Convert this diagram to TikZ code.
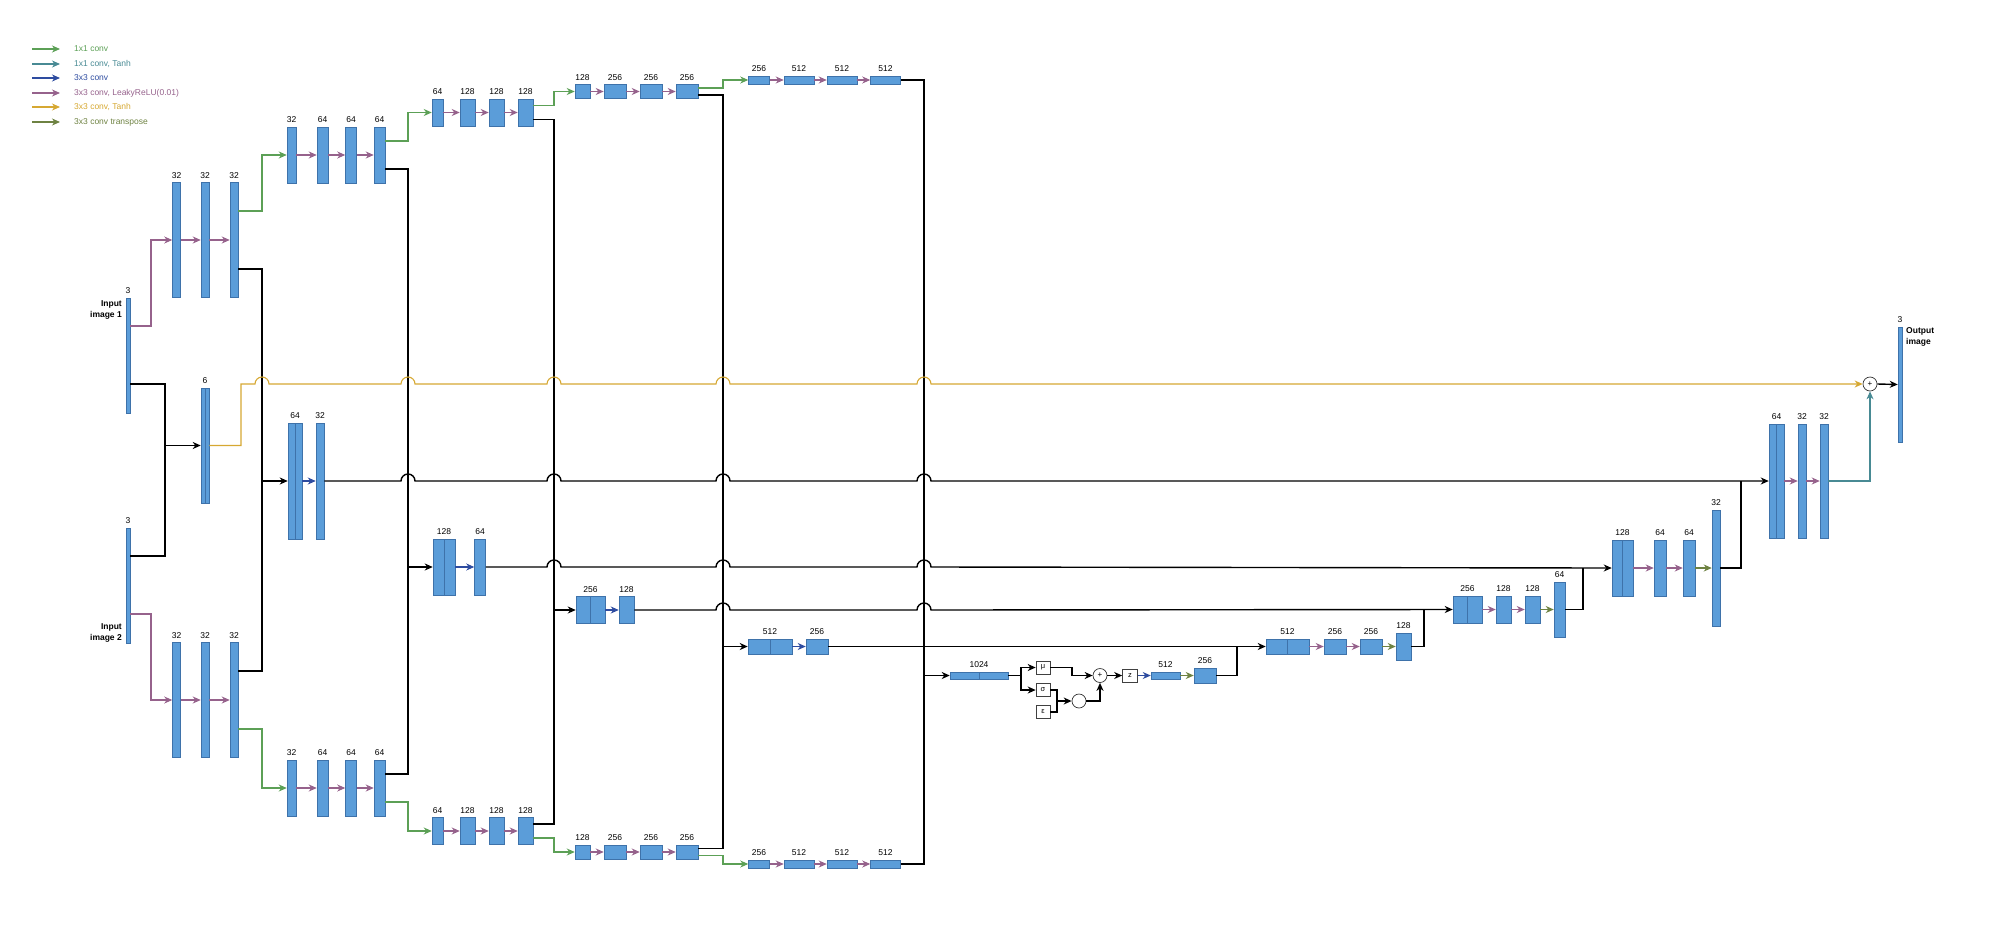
\documentclass[tikz,border=0pt]{standalone}
\usepackage{fontspec}
\setmainfont{Liberation Sans}
\usetikzlibrary{arrows.meta,calc}

\definecolor{barfill}{RGB}{91,157,217}
\definecolor{barline}{RGB}{62,114,170}
\definecolor{cgreen}{RGB}{92,160,86}
\definecolor{cteal}{RGB}{72,138,148}
\definecolor{cblue}{RGB}{46,76,160}
\definecolor{cpurple}{RGB}{150,98,140}
\definecolor{cgold}{RGB}{214,168,50}
\definecolor{colive}{RGB}{110,130,66}

\tikzset{
  bar/.style 2 args={draw=barline, fill=barfill, line width=0.5pt, inner sep=0pt, minimum width=#1pt, minimum height=#2pt},
  cat/.style={path picture={\draw[barline,line width=0.6pt] (path picture bounding box.north) -- (path picture bounding box.south);}},
  lbl/.style={font=\fontsize{8.5}{10}\selectfont, inner sep=1pt},
  legtxt/.style={anchor=west, inner sep=0pt, font=\fontsize{8.5}{10}\selectfont},
  ttl/.style={inner sep=0pt, font=\fontsize{8.5}{11}\selectfont\bfseries},
  vbox/.style={draw=black!75, line width=0.6pt, fill=white, minimum width=14pt, minimum height=13pt, inner sep=0pt, font=\fontsize{7.5}{8}\selectfont},
  circ/.style={circle, draw=black!80, line width=0.7pt, fill=white, minimum size=14pt, inner sep=0pt, font=\fontsize{8}{8}\selectfont},
  dotmark/.style={path picture={\fill (path picture bounding box.center) circle (1.1pt);}},
  arr/.style={-{Stealth[length=8pt,width=7pt,inset=2.5pt]}},
  blk/.style={black, line width=1.4pt},
  conv11/.style={cgreen, line width=1.1pt},
  conv11t/.style={cteal, line width=1.1pt},
  conv33/.style={cblue, line width=1.1pt},
  leaky/.style={cpurple, line width=1.1pt},
  tanh33/.style={cgold, line width=1.1pt},
  convtr/.style={colive, line width=1.1pt}
}
% hop of a horizontal line over the vertical through #1, at the height of #2
\def\jumpover#1#2{-- ($(#1 |- #2)+(-7,0)$) arc[start angle=180,end angle=0,radius=7pt]}

\begin{document}
\begin{tikzpicture}[x=1pt, y=-1pt, label distance=2.5pt]
  \useasboundingbox (0,0) rectangle (2015,937);

  %%%%% LEGEND %%%%%
  \node[legtxt,text=cgreen] (lg1) at (74,49) {1x1 conv};
  \node[legtxt,text=cteal] (lg2) at (74,64) {1x1 conv, Tanh};
  \node[legtxt,text=cblue] (lg3) at (74,78) {3x3 conv};
  \node[legtxt,text=cpurple] (lg4) at (74,93) {3x3 conv, LeakyReLU(0.01)};
  \node[legtxt,text=cgold] (lg5) at (74,107) {3x3 conv, Tanh};
  \node[legtxt,text=colive] (lg6) at (74,122) {3x3 conv transpose};
  \draw[conv11,arr] ([xshift=-42pt]lg1.west) -- ([xshift=-14pt]lg1.west);
  \draw[conv11t,arr] ([xshift=-42pt]lg2.west) -- ([xshift=-14pt]lg2.west);
  \draw[conv33,arr] ([xshift=-42pt]lg3.west) -- ([xshift=-14pt]lg3.west);
  \draw[leaky,arr] ([xshift=-42pt]lg4.west) -- ([xshift=-14pt]lg4.west);
  \draw[tanh33,arr] ([xshift=-42pt]lg5.west) -- ([xshift=-14pt]lg5.west);
  \draw[convtr,arr] ([xshift=-42pt]lg6.west) -- ([xshift=-14pt]lg6.west);

  %%%%% INPUTS %%%%%
  \node[bar={4}{115}, label={[lbl]above:3}] (in1) at (128,355.5) {};
  \node[bar={4}{115}, label={[lbl]above:3}] (in2) at (128,585.5) {};
  \node[ttl, anchor=east, align=right] (in1t) at (122,310) {Input\\image 1};
  \node[ttl, anchor=east, align=right] (in2t) at (122,632.5) {Input\\image 2};
  \node[bar={8}{115}, cat, label={[lbl]above:6}] (cat6) at (205,445.5) {};

  %%%%% ENCODER, UPPER %%%%%
  \node[bar={8}{115}, label={[lbl]above:32}] (u1a) at (176.5,240) {};
  \node[bar={8}{115}, label={[lbl]above:32}] (u1b) at (205,240) {};
  \node[bar={8}{115}, label={[lbl]above:32}] (u1c) at (234,240) {};
  \node[bar={9}{56}, label={[lbl]above:32}] (u2a) at (291.5,155) {};
  \node[bar={11}{56}, label={[lbl]above:64}] (u2b) at (322.5,155) {};
  \node[bar={11}{56}, label={[lbl]above:64}] (u2c) at (351,155) {};
  \node[bar={11}{56}, label={[lbl]above:64}] (u2d) at (379.5,155) {};
  \node[bar={11}{27}, label={[lbl]above:64}] (u3a) at (437.5,112.5) {};
  \node[bar={15}{27}, label={[lbl]above:128}] (u3b) at (467.5,112.5) {};
  \node[bar={15}{27}, label={[lbl]above:128}] (u3c) at (496.5,112.5) {};
  \node[bar={15}{27}, label={[lbl]above:128}] (u3d) at (525.5,112.5) {};
  \node[bar={15}{14}, label={[lbl]above:128}] (u4a) at (582.5,91.5) {};
  \node[bar={22}{14}, label={[lbl]above:256}] (u4b) at (615,91.5) {};
  \node[bar={22}{14}, label={[lbl]above:256}] (u4c) at (651,91.5) {};
  \node[bar={22}{14}, label={[lbl]above:256}] (u4d) at (687,91.5) {};
  \node[bar={21}{8}, label={[lbl]above:256}] (u5a) at (759,80) {};
  \node[bar={30}{8}, label={[lbl]above:512}] (u5b) at (799,80) {};
  \node[bar={30}{8}, label={[lbl]above:512}] (u5c) at (842,80) {};
  \node[bar={30}{8}, label={[lbl]above:512}] (u5d) at (885.5,80) {};

  %%%%% ENCODER, LOWER %%%%%
  \node[bar={8}{115}, label={[lbl]above:32}] (l1a) at (176.5,700) {};
  \node[bar={8}{115}, label={[lbl]above:32}] (l1b) at (205,700) {};
  \node[bar={8}{115}, label={[lbl]above:32}] (l1c) at (234,700) {};
  \node[bar={9}{56}, label={[lbl]above:32}] (l2a) at (291.5,788) {};
  \node[bar={11}{56}, label={[lbl]above:64}] (l2b) at (322.5,788) {};
  \node[bar={11}{56}, label={[lbl]above:64}] (l2c) at (351,788) {};
  \node[bar={11}{56}, label={[lbl]above:64}] (l2d) at (379.5,788) {};
  \node[bar={11}{27}, label={[lbl]above:64}] (l3a) at (437.5,831) {};
  \node[bar={15}{27}, label={[lbl]above:128}] (l3b) at (467.5,831) {};
  \node[bar={15}{27}, label={[lbl]above:128}] (l3c) at (496.5,831) {};
  \node[bar={15}{27}, label={[lbl]above:128}] (l3d) at (525.5,831) {};
  \node[bar={15}{14}, label={[lbl]above:128}] (l4a) at (582.5,852) {};
  \node[bar={22}{14}, label={[lbl]above:256}] (l4b) at (615,852) {};
  \node[bar={22}{14}, label={[lbl]above:256}] (l4c) at (651,852) {};
  \node[bar={22}{14}, label={[lbl]above:256}] (l4d) at (687,852) {};
  \node[bar={21}{8}, label={[lbl]above:256}] (l5a) at (759,864) {};
  \node[bar={30}{8}, label={[lbl]above:512}] (l5b) at (799,864) {};
  \node[bar={30}{8}, label={[lbl]above:512}] (l5c) at (842,864) {};
  \node[bar={30}{8}, label={[lbl]above:512}] (l5d) at (885.5,864) {};

  %%%%% SKIP BLOCKS %%%%%
  \node[bar={14}{116}, cat, label={[lbl]above:64}] (s1) at (295,481) {};
  \node[bar={8}{116}, label={[lbl]above:32}] (s1b) at (320,481) {};
  \node[bar={22}{56}, cat, label={[lbl]above:128}] (s2) at (444,567) {};
  \node[bar={11}{56}, label={[lbl]above:64}] (s2b) at (480,567) {};
  \node[bar={29}{27}, cat, label={[lbl]above:256}] (s3) at (590.5,610) {};
  \node[bar={15}{27}, label={[lbl]above:128}] (s3b) at (626.5,610) {};
  \node[bar={44}{15}, cat, label={[lbl]above:512}] (s4) at (770,646.5) {};
  \node[bar={22}{15}, label={[lbl]above:256}] (s4b) at (817,646.5) {};

  %%%%% BOTTLENECK %%%%%
  \node[bar={58}{7}, cat, label={[lbl]above:1024}] (bott) at (979,675.5) {};
  \node[vbox] (mu) at (1043,667.5) {μ};
  \node[vbox] (sig) at (1043,690) {σ};
  \node[vbox] (eps) at (1043,712) {ε};
  \node[circ] (sum) at (1100,675.5) {+};
  \node[circ, dotmark] (prod) at (1079,701) {};
  \node[vbox, minimum width=15pt] (z) at (1130,675.5) {z};
  \node[bar={29}{7}, label={[lbl]above:512}] (d5a) at (1165.5,675.5) {};
  \node[bar={22}{15}, label={[lbl]above:256}] (d5b) at (1205,675.5) {};

  %%%%% DECODER %%%%%
  \node[bar={43}{15}, cat, label={[lbl]above:512}] (d4a) at (1287.5,646.5) {};
  \node[bar={22}{15}, label={[lbl]above:256}] (d4b) at (1335,646.5) {};
  \node[bar={22}{15}, label={[lbl]above:256}] (d4c) at (1371,646.5) {};
  \node[bar={15}{27}, label={[lbl]above:128}] (d4d) at (1403.5,646.5) {};
  \node[bar={29}{27}, cat, label={[lbl]above:256}] (d3a) at (1467.5,609.5) {};
  \node[bar={15}{27}, label={[lbl]above:128}] (d3b) at (1503.5,609.5) {};
  \node[bar={15}{27}, label={[lbl]above:128}] (d3c) at (1532.5,609.5) {};
  \node[bar={11}{55}, label={[lbl]above:64}] (d3d) at (1559.5,609.5) {};
  \node[bar={21}{56}, cat, label={[lbl]above:128}] (d2a) at (1622.5,568) {};
  \node[bar={12}{56}, label={[lbl]above:64}] (d2b) at (1660,568) {};
  \node[bar={12}{56}, label={[lbl]above:64}] (d2c) at (1689,568) {};
  \node[bar={8}{116}, label={[lbl]above:32}] (d2d) at (1716,568) {};
  \node[bar={15}{114}, cat, label={[lbl]above:64}] (d1a) at (1776.5,481) {};
  \node[bar={8}{114}, label={[lbl]above:32}] (d1b) at (1802,481) {};
  \node[bar={8}{114}, label={[lbl]above:32}] (d1c) at (1824,481) {};
  \node[circ] (pl) at (1870,384) {+};
  \node[bar={4}{115}, label={[lbl]above:3}] (outb) at (1900,384.5) {};
  \node[ttl, anchor=west, align=left] (outt) at (1906,337) {Output\\image};

  %%%%% JUNCTIONS %%%%%
  \coordinate (pb) at (151,0);
  \coordinate (j0) at (165,445.5);
  \coordinate (g1) at (241,384);
  \coordinate (j1) at (262,481);
  \coordinate (j2) at (408,567);
  \coordinate (j3) at (554,610);
  \coordinate (j4) at (723,646.5);
  \coordinate (j5) at (924,675.5);
  \coordinate (fk) at (1021,675.5);
  \coordinate (m1) at (1072,0);
  \coordinate (k0) at (1057,701);
  \coordinate (k5) at (1237,0);
  \coordinate (k4) at (1424,0);
  \coordinate (k3) at (1583,0);
  \coordinate (k2) at (1741,0);

  %%%%% INPUT CONNECTIONS %%%%%
  \draw[leaky,arr] ([yshift=29.5pt]in1.east) -| (pb |- u1a.west) -- (u1a.west);
  \draw[leaky,arr] ([yshift=-28.5pt]in2.east) -| (pb |- l1a.west) -- (l1a.west);
  \draw[blk] ([yshift=-28.5pt]in1.east) -| (j0) |- ([yshift=29.5pt]in2.east);
  \draw[blk,arr] (j0) -- (cat6.west);

  %%%%% CHAINS %%%%%
  \foreach \a/\b in {u1a/u1b,u1b/u1c,u2a/u2b,u2b/u2c,u2c/u2d,u3a/u3b,u3b/u3c,u3c/u3d,u4a/u4b,u4b/u4c,u4c/u4d,u5a/u5b,u5b/u5c,u5c/u5d,
                     l1a/l1b,l1b/l1c,l2a/l2b,l2b/l2c,l2c/l2d,l3a/l3b,l3b/l3c,l3c/l3d,l4a/l4b,l4b/l4c,l4c/l4d,l5a/l5b,l5b/l5c,l5c/l5d,
                     d4a/d4b,d4b/d4c,d3a/d3b,d3b/d3c,d2a/d2b,d2b/d2c,d1a/d1b,d1b/d1c}
    \draw[leaky,arr] (\a.east) -- (\b.west);
  \foreach \a/\b in {s1/s1b,s2/s2b,s3/s3b,s4/s4b,z/d5a}
    \draw[conv33,arr] (\a.east) -- (\b.west);
  \foreach \a/\b in {d5a/d5b,d4c/d4d,d3c/d3d,d2c/d2d}
    \draw[convtr,arr] (\a.east) -- (\b.west);

  %%%%% DOWNSAMPLING %%%%%
  \draw[conv11,arr] ([yshift=29pt]u1c.east) -| (j1 |- u2a.west) -- (u2a.west);
  \draw[conv11,arr] ([yshift=14pt]u2d.east) -| (j2 |- u3a.west) -- (u3a.west);
  \draw[conv11,arr] ([yshift=7pt]u3d.east) -| (j3 |- u4a.west) -- (u4a.west);
  \draw[conv11,arr] ([yshift=3.5pt]u4d.east) -| (j4 |- u5a.west) -- (u5a.west);
  \draw[conv11,arr] ([yshift=-29pt]l1c.east) -| (j1 |- l2a.west) -- (l2a.west);
  \draw[conv11,arr] ([yshift=-14pt]l2d.east) -| (j2 |- l3a.west) -- (l3a.west);
  \draw[conv11,arr] ([yshift=-7pt]l3d.east) -| (j3 |- l4a.west) -- (l4a.west);
  \draw[conv11,arr] ([yshift=-3.5pt]l4d.east) -| (j4 |- l5a.west) -- (l5a.west);

  %%%%% MERGING %%%%%
  \draw[blk] ([yshift=-29pt]u1c.east) -| (j1) |- ([yshift=29pt]l1c.east);
  \draw[blk] ([yshift=-14pt]u2d.east) -| (j2) |- ([yshift=14pt]l2d.east);
  \draw[blk] ([yshift=-7pt]u3d.east) -| (j3) |- ([yshift=7pt]l3d.east);
  \draw[blk] ([yshift=-3.5pt]u4d.east) -| (j4) |- ([yshift=3.5pt]l4d.east);
  \draw[blk] (u5d.east) -| (j5) |- (l5d.east);
  \draw[blk,arr] (j1) -- (s1.west);
  \draw[blk,arr] (j2) -- (s2.west);
  \draw[blk,arr] (j3) -- (s3.west);
  \draw[blk,arr] (j4) -- (s4.west);
  \draw[blk,arr] (j5) -- (bott.west);

  %%%%% LONG SKIPS %%%%%
  \draw[tanh33,arr] (cat6.east) -| (g1) \jumpover{j1}{g1} \jumpover{j2}{g1} \jumpover{j3}{g1} \jumpover{j4}{g1} \jumpover{j5}{g1} -- (pl.west);
  \draw[blk,arr] (s1b.east) \jumpover{j2}{s1b} \jumpover{j3}{s1b} \jumpover{j4}{s1b} \jumpover{j5}{s1b} -- (d1a.west);
  \draw[blk,arr] (s2b.east) \jumpover{j3}{s2b} \jumpover{j4}{s2b} \jumpover{j5}{s2b} -- (d2a.west);
  \draw[blk,arr] (s3b.east) \jumpover{j4}{s3b} \jumpover{j5}{s3b} -- (d3a.west);
  \draw[blk,arr] (s4b.east) -- (d4a.west);

  %%%%% LATENT %%%%%
  \draw[blk] (bott.east) -- (fk);
  \draw[blk,arr] (fk) |- (mu.west);
  \draw[blk,arr] (fk) |- (sig.west);
  \draw[blk,arr] (mu.east) -| (m1 |- sum.west) -- (sum.west);
  \draw[blk] (sig.east) -| (k0) |- (eps.east);
  \draw[blk,arr] (k0) -- (prod.west);
  \draw[blk,arr] (prod.east) -| (sum.south);
  \draw[blk,arr] (sum.east) -- (z.west);

  %%%%% UPSAMPLING %%%%%
  \draw[blk] (d5b.east) -| (k5 |- d4a.west);
  \draw[blk] (d4d.east) -| (k4 |- d3a.west);
  \draw[blk] (d3d.east) -| (k3 |- d2a.west);
  \draw[blk] (d2d.east) -| (k2 |- d1a.west);
  \draw[conv11t,arr] (d1c.east) -| (pl.south);
  \draw[blk,arr] (pl.east) -- (outb.west);
\end{tikzpicture}
\end{document}
